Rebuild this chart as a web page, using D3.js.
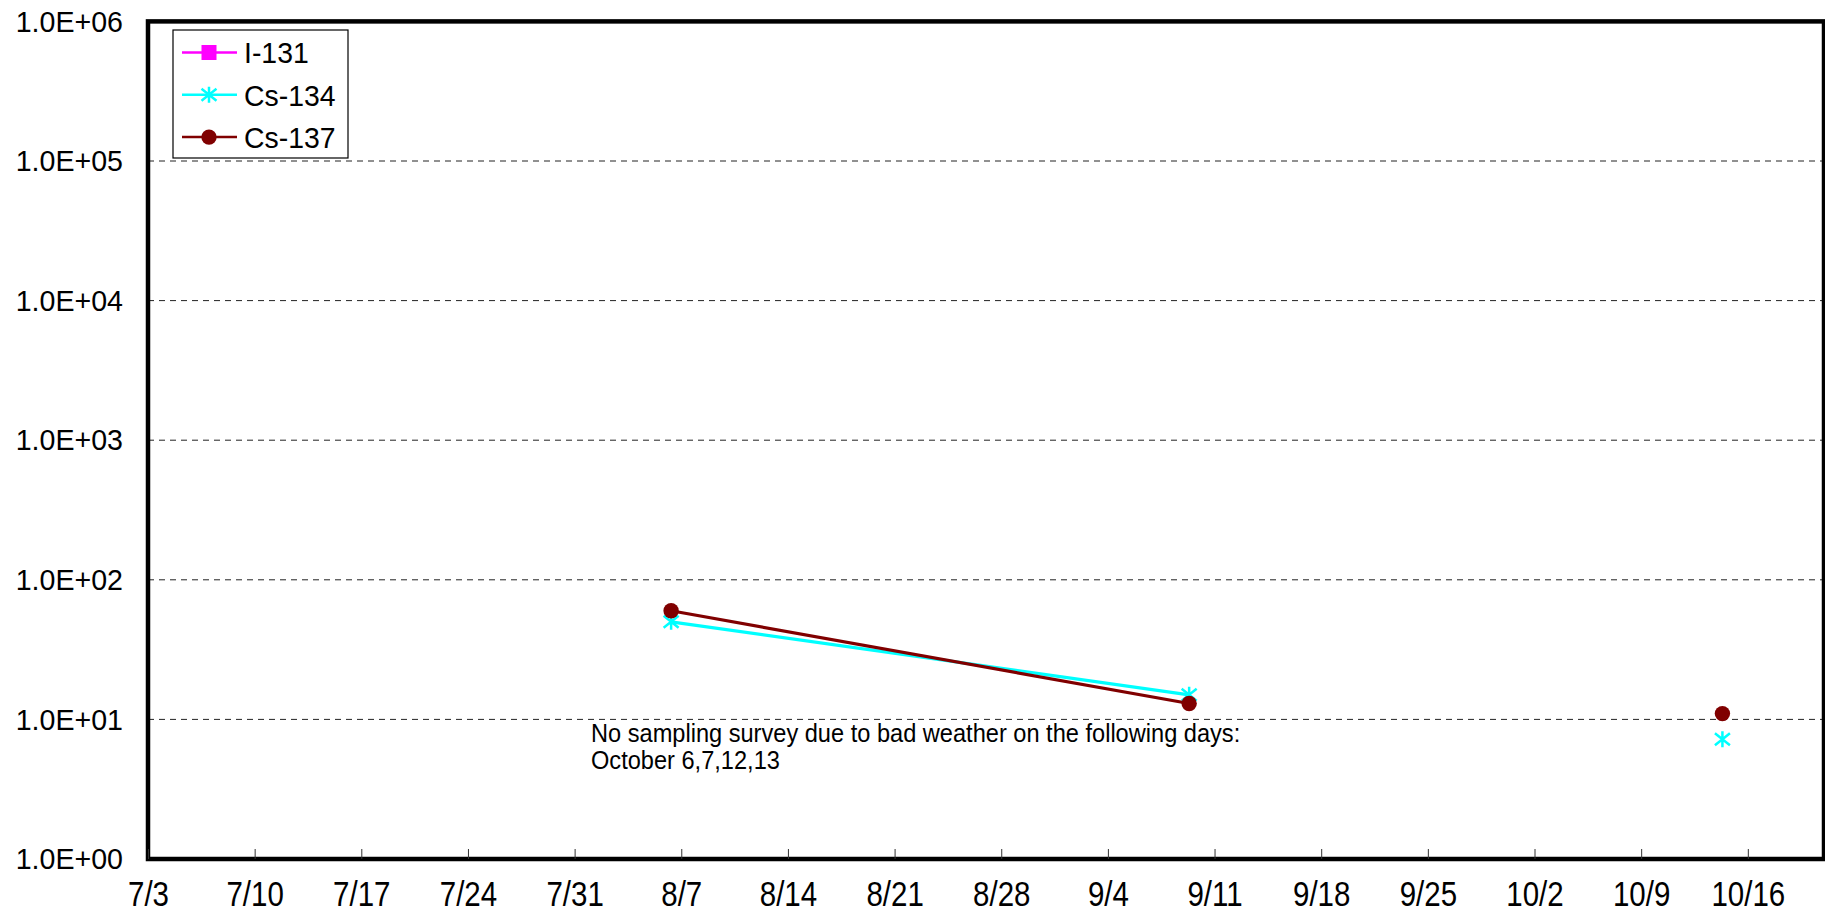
<!DOCTYPE html>
<html>
<head>
<meta charset="utf-8">
<script src="https://cdn.jsdelivr.net/npm/d3@7"></script>
<style>
	html, body { margin: 0; padding: 0; background: #fff; }
	svg { display: block; font-family: "Liberation Sans", Arial, sans-serif; }
</style>
</head>
<body>
<svg width="1825" height="915"></svg>
<script>

	// Sampling dates and measured values (one row per date, null = no value / line break)
	var sample_dates = ["2011-08-06", "2011-09-09", "2011-10-06", "2011-10-14"];
	var i131_values  = [null, null, null, null];
	var cs134_values = [50, 15, null, 7.2];
	var cs137_values = [60, 13, null, 11];

	var series_names  = ["I-131", "Cs-134", "Cs-137"];
	var series_values = [i131_values, cs134_values, cs137_values];

	var y_tick_values = [1, 10, 100, 1000, 10000, 100000, 1000000];
	var x_domain      = ["2011-07-03", "2011-10-21"];

	var note_lines = [
		"No sampling survey due to bad weather on the following days:",
		"October 6,7,12,13"
	];

	var chart = (function(){

		var svg = d3.select("svg");
		var parse = d3.timeParse("%Y-%m-%d");

		var left = 148, right = 1824, top = 21.4, bottom = 859;

		var styles = {
			"I-131"  : { color: "#ff00ff", marker: "square" },
			"Cs-134" : { color: "#00ffff", marker: "star" },
			"Cs-137" : { color: "#800000", marker: "circle" }
		};

		var x = d3.scaleTime()
			.domain(x_domain.map(parse))
			.range([left, right]);

		var y = d3.scaleLog()
			.domain([1, 1000000])
			.range([bottom, top]);

		// points sit a bit into the day slot, like the excel original
		function x_pos(date){
			return x(d3.timeHour.offset(date, 8));
		}

		// the original text is a little taller than it is wide: keep the width, grow the height
		function stretch_text(selection, size, factor){
			selection.attr("font-size", size).each(function(){
				var w = this.getComputedTextLength();
				d3.select(this)
					.attr("font-size", size * factor)
					.attr("textLength", w)
					.attr("lengthAdjust", "spacingAndGlyphs");
			});
		}

		function draw_marker(g, type, color){
			if(type == "circle"){
				g.append("circle").attr("r", 7.7).attr("fill", color);
			} else if(type == "square"){
				g.append("rect").attr("x", -7.5).attr("y", -7.5)
					.attr("width", 15).attr("height", 15).attr("fill", color);
			} else {
				g.append("path")
					.attr("d", "M0,-8V8M-7.5,-6L7.5,6M-7.5,6L7.5,-6")
					.attr("stroke", color).attr("stroke-width", 2.5).attr("fill", "none");
			}
		}

		function draw_grid(){
			svg.append("g").attr("class", "grid")
				.selectAll("line").data(y_tick_values)
				.enter().append("line")
				.attr("x1", left).attr("x2", right)
				.attr("y1", function(d){ return y(d); })
				.attr("y2", function(d){ return y(d); })
				.attr("stroke", "#222")
				.attr("stroke-width", 1)
				.attr("stroke-dasharray", "6,5");
		}

		function draw_axes(){
			var x_axis = d3.axisBottom(x)
				.tickValues(d3.timeWeek.range(parse("2011-07-03"), parse("2011-10-20")))
				.tickFormat(d3.timeFormat("%-m/%-d"))
				.tickSizeInner(-10)
				.tickSizeOuter(0)
				.tickPadding(23);

			var gx = svg.append("g")
				.attr("transform", "translate(0," + bottom + ")")
				.call(x_axis);
			gx.select(".domain").remove();
			gx.selectAll(".tick line").attr("stroke", "#333");
			gx.selectAll("text")
				.attr("font-family", "Liberation Sans, Arial, sans-serif")
				.attr("fill", "#000")
				.attr("dy", "0.68em")
				.call(stretch_text, 29.5, 1.22);

			var y_axis = d3.axisLeft(y)
				.tickValues(y_tick_values)
				.tickFormat(function(d){ return "1.0E+" + d3.format("02d")(Math.round(Math.log10(d))); })
				.tickSize(0)
				.tickPadding(25);

			var gy = svg.append("g")
				.attr("transform", "translate(" + left + ",0)")
				.call(y_axis);
			gy.select(".domain").remove();
			gy.selectAll("text")
				.attr("font-family", "Liberation Sans, Arial, sans-serif")
				.attr("fill", "#000")
				.call(stretch_text, 28.6, 1.05);
		}

		function draw_series(){
			var dates = sample_dates.map(parse);

			series_names.forEach(function(name, i){
				var st = styles[name];
				var rows = dates.map(function(d, j){ return { date: d, value: series_values[i][j] }; });

				var line = d3.line()
					.defined(function(d){ return d.value !== null; })
					.x(function(d){ return x_pos(d.date); })
					.y(function(d){ return y(d.value); });

				svg.append("path")
					.datum(rows)
					.attr("d", line)
					.attr("fill", "none")
					.attr("stroke", st.color)
					.attr("stroke-width", 3.2);

				svg.append("g").selectAll("g")
					.data(rows.filter(function(d){ return d.value !== null; }))
					.enter().append("g")
					.attr("transform", function(d){ return "translate(" + x_pos(d.date) + "," + y(d.value) + ")"; })
					.each(function(){ draw_marker(d3.select(this), st.marker, st.color); });
			});
		}

		function draw_frame(){
			svg.append("rect")
				.attr("x", left).attr("y", top)
				.attr("width", right - left).attr("height", bottom - top)
				.attr("fill", "none")
				.attr("stroke", "#000")
				.attr("stroke-width", 4.5);
		}

		function draw_legend(){
			var lg = svg.append("g").attr("transform", "translate(173,30)");

			lg.append("rect")
				.attr("width", 175).attr("height", 128)
				.attr("fill", "#fff").attr("stroke", "#000").attr("stroke-width", 1.2);

			series_names.forEach(function(name, i){
				var st = styles[name];
				var row = lg.append("g").attr("transform", "translate(0," + (22.5 + i * 42.3) + ")");

				row.append("line")
					.attr("x1", 9).attr("x2", 64)
					.attr("stroke", st.color).attr("stroke-width", 2.5);

				draw_marker(row.append("g").attr("transform", "translate(36,0)"), st.marker, st.color);

				row.append("text")
					.attr("x", 71).attr("dy", "0.36em")
					.text(name);
			});
			lg.selectAll("text").call(stretch_text, 28.4, 1.05);
		}

		function draw_note(){
			var t = svg.append("g").selectAll("text").data(note_lines)
				.enter().append("text")
				.attr("x", 591)
				.attr("y", function(d, i){ return 742 + i * 27; })
				.text(function(d){ return d; });
			t.call(stretch_text, 23.6, 1.12);
		}

		draw_grid();
		draw_series();
		draw_frame();
		draw_axes();
		draw_legend();
		draw_note();

		return null;
	})();

</script>
</body>
</html>
